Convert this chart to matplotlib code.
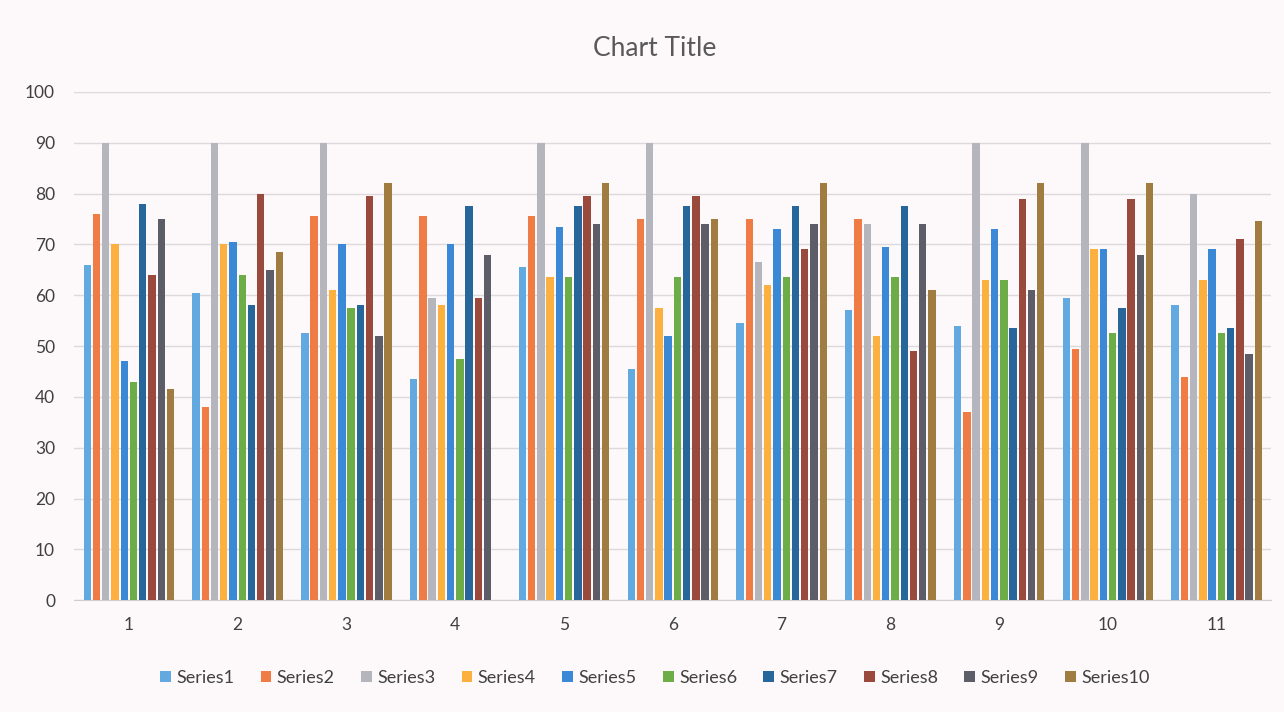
import matplotlib
matplotlib.use("Agg")
import matplotlib.pyplot as plt
import numpy as np

categories = ["1", "2", "3", "4", "5", "6", "7", "8", "9", "10", "11"]
series_names = ["Series1", "Series2", "Series3", "Series4", "Series5",
                "Series6", "Series7", "Series8", "Series9", "Series10"]

s1 = [66, 60.5, 52.5, 43.5, 65.5, 45.5, 54.5, 57, 54, 59.5, 58]
s2 = [76, 38, 75.5, 75.5, 75.5, 75, 75, 75, 37, 49.5, 44]
s3 = [90, 90, 90, 59.5, 90, 90, 66.5, 74, 90, 90, 80]
s4 = [70, 70, 61, 58, 63.5, 57.5, 62, 52, 63, 69, 63]
s5 = [47, 70.5, 70, 70, 73.5, 52, 73, 69.5, 73, 69, 69]
s6 = [43, 64, 57.5, 47.5, 63.5, 63.5, 63.5, 63.5, 63, 52.5, 52.5]
s7 = [78, 58, 58, 77.5, 77.5, 77.5, 77.5, 77.5, 53.5, 57.5, 53.5]
s8 = [64, 80, 79.5, 59.5, 79.5, 79.5, 69, 49, 79, 79, 71]
s9 = [75, 65, 52, 68, 74, 74, 74, 74, 61, 68, 48.5]
s10 = [41.5, 68.5, 82, 0, 82, 75, 82, 61, 82, 82, 74.5]

series = [s1, s2, s3, s4, s5, s6, s7, s8, s9, s10]
colors = ["#62A9E0", "#EF7B45", "#B5B5BD", "#FBB040", "#3B88D6",
          "#6DAD47", "#27669B", "#9A4A3C", "#5C5D66", "#A17C40"]

bg = "#FDF9FB"
plt.rcParams['font.family'] = ['Lato', 'DejaVu Sans']
fig = plt.figure(figsize=(12.84, 7.12), dpi=100, facecolor=bg)
ax = fig.add_axes([0.058, 0.157, 0.932, 0.714], facecolor=bg)

x = np.arange(len(categories))
n = len(series)
w = 0.085
for i, (vals, name, c) in enumerate(zip(series, series_names, colors)):
    ax.bar(x + (i - (n - 1) / 2) * w, vals, width=w * 0.8, color=c,
           label=name, zorder=3)

ax.set_xlim(-0.5, len(categories) - 0.5)
ax.set_ylim(0, 100)
ax.set_yticks(np.arange(0, 101, 10))
ax.set_xticks(x)
ax.set_xticklabels(categories)
ax.grid(axis='y', color="#DCDADC", linewidth=1, zorder=0)
for s in ["top", "right", "left"]:
    ax.spines[s].set_visible(False)
ax.spines["bottom"].set_color("#CFCDD0")
ax.tick_params(axis='both', length=0, labelsize=12.5, colors="#404040")
ax.tick_params(axis='x', pad=12)
ax.tick_params(axis='y', pad=14)

fig.text(0.51, 0.932, "Chart Title", ha='center', va='center',
         fontsize=19, color="#595959")

leg = fig.legend(loc='center', bbox_to_anchor=(0.51, 0.048), ncol=10,
                 frameon=False, fontsize=13, handlelength=0.6,
                 handleheight=0.6, handletextpad=0.3, columnspacing=1.45)
for t in leg.get_texts():
    t.set_color("#404040")

fig.savefig("out.png", dpi=100, facecolor=bg)
